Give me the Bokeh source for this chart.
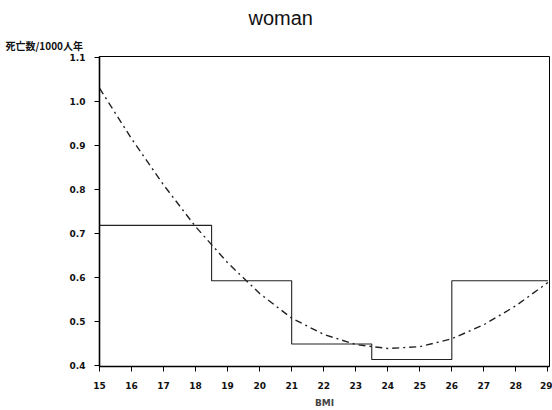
from bokeh.plotting import figure
from bokeh.models import Range1d, FixedTicker, Title, NumeralTickFormatter
from bokeh.embed import file_html
from bokeh.resources import INLINE

# Step (observed rates by BMI group)
step_x = [15, 18.5, 21, 23.5, 26, 29]
step_y = [0.718, 0.592, 0.448, 0.413, 0.592, 0.592]

# Fitted curve
curve_x = [15, 16, 17, 18, 19, 20, 21, 22, 23, 24, 25, 26, 27, 28, 29]
curve_y = [1.03, 0.915, 0.81, 0.715, 0.633, 0.563, 0.507, 0.47, 0.447, 0.438, 0.442, 0.46, 0.492, 0.535, 0.588]

x_ticks = list(range(15, 30))
y_ticks = [0.4, 0.5, 0.6, 0.7, 0.8, 0.9, 1.0, 1.1]

title_text = "woman"
y_label_text = "死亡数/1000人年"
x_label_text = "BMI"

p = figure(width=552, height=410, output_backend="svg", toolbar_location=None,
           x_range=Range1d(15, 29.05), y_range=Range1d(0.397, 1.102),
           min_border_left=99, min_border_right=3, min_border_top=10, min_border_bottom=44)
p.background_fill_color = "white"
p.border_fill_color = "white"
p.outline_line_color = "black"
p.outline_line_width = 1
p.xgrid.visible = False
p.ygrid.visible = False
p.title.text = ""
p.title.visible = False

p.step(step_x, step_y, mode="after", line_color="#222222", line_width=1.1)
p.line(curve_x, curve_y, line_color="#222222", line_width=1.4, line_dash="7 4 2 4")

font = "DejaVu Sans"
for ax in (p.xaxis[0], p.yaxis[0]):
    ax.axis_line_width = 1.6
    ax.axis_line_color = "black"
    ax.major_tick_out = 5
    ax.major_tick_in = 0
    ax.minor_tick_out = 3
    ax.minor_tick_in = 0
    ax.major_tick_line_color = "black"
    ax.minor_tick_line_color = "black"
    ax.major_label_text_font = font
    ax.major_label_text_font_size = "9px"
    ax.major_label_text_font_style = "bold"
    ax.major_label_text_color = "#111111"

p.xaxis.ticker = FixedTicker(ticks=x_ticks, num_minor_ticks=5)
p.yaxis.ticker = FixedTicker(ticks=y_ticks, num_minor_ticks=10)
p.yaxis.formatter = NumeralTickFormatter(format="0.0")
p.xaxis.major_label_standoff = 10
p.yaxis.major_label_standoff = 9
p.xaxis.axis_label = x_label_text
p.xaxis.axis_label_text_font = font
p.xaxis.axis_label_text_font_size = "9px"
p.xaxis.axis_label_text_font_style = "bold"
p.xaxis.axis_label_standoff = 6

ylab = Title(text=y_label_text, align="left", offset=-94,
             text_font="Noto Sans CJK JP", text_font_size="10px", text_font_style="bold",
             text_color="#111111", standoff=7)
p.add_layout(ylab, "above")
ttl = Title(text=title_text, align="left", offset=149,
            text_font="Liberation Sans", text_font_size="20px", text_font_style="normal",
            text_color="#111111", standoff=8)
p.add_layout(ttl, "above")

open("out.html", "w").write(file_html(p, INLINE))
